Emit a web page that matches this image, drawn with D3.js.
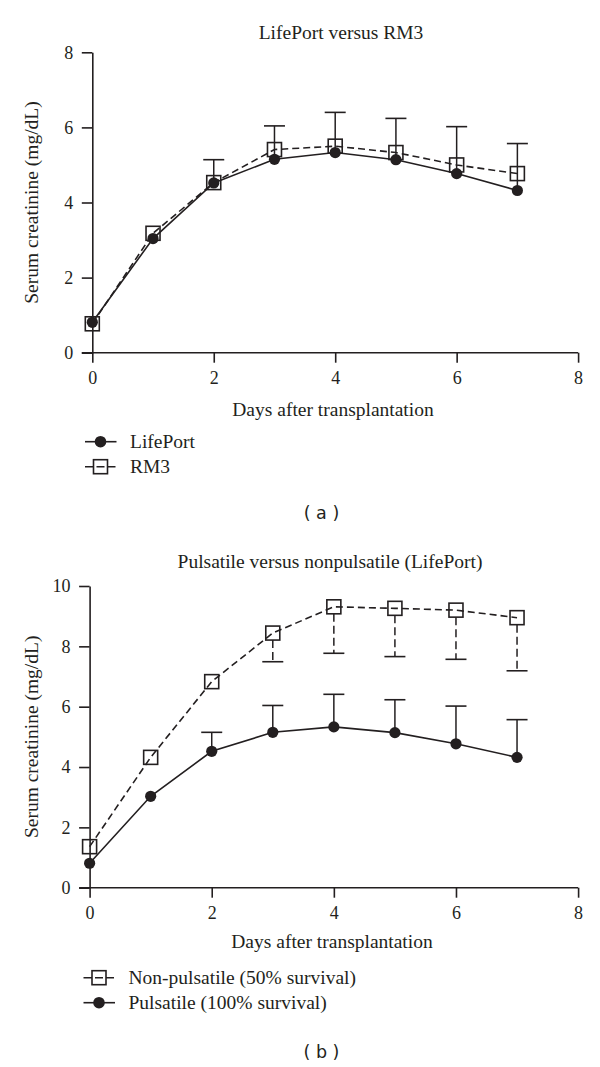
<!DOCTYPE html>
<html>
<head>
<meta charset="utf-8">
<script src="https://cdn.jsdelivr.net/npm/d3@7"></script>
<style>
  html, body { margin: 0; padding: 0; background: #fff; }
  svg { display: block; }
  .serif { font-family: "Liberation Serif", "Times New Roman", serif; fill: #231f20; }
  .axis path, .axis line { stroke: #231f20; stroke-width: 1.6; }
  .axis text { font-family: "Liberation Serif", "Times New Roman", serif; font-size: 18px; fill: #231f20; }
</style>
</head>
<body>
<script>
// ---------------- DATA ----------------
const days = [0, 1, 2, 3, 4, 5, 6, 7];
const xTicks = [0, 2, 4, 6, 8];

// Panel (a): LifePort versus RM3
const yTicksA = [0, 2, 4, 6, 8];
const lifePortMean = [0.81, 3.04, 4.52, 5.15, 5.33, 5.14, 4.77, 4.32];
const lifePortSD   = [0, 0, 0.62, 0.89, 1.07, 1.10, 1.25, 1.25];
const rm3Mean      = [0.77, 3.18, 4.53, 5.41, 5.50, 5.33, 5.00, 4.77];

// Panel (b): Pulsatile versus nonpulsatile (LifePort)
const yTicksB = [0, 2, 4, 6, 8, 10];
const pulsatileMean = [0.81, 3.03, 4.52, 5.15, 5.33, 5.14, 4.77, 4.32];
const pulsatileSD   = [0, 0, 0.63, 0.89, 1.08, 1.09, 1.25, 1.25];
const nonPulsMean   = [1.36, 4.32, 6.83, 8.44, 9.31, 9.26, 9.20, 8.95];
const nonPulsSD     = [0, 0, 0, 0.95, 1.54, 1.60, 1.63, 1.76];

const titleA = "LifePort versus RM3";
const titleB = "Pulsatile versus nonpulsatile (LifePort)";
const xLabel = "Days after transplantation";
const yLabel = "Serum creatinine (mg/dL)";
const legendA = ["LifePort", "RM3"];
const legendB = ["Non-pulsatile (50% survival)", "Pulsatile (100% survival)"];

// ---------------- DRAW ----------------
const W = 600, H = 1067;
const svg = d3.select("body").append("svg").attr("width", W).attr("height", H);
const ink = "#231f20";

function panel(cfg) {
  const x = d3.scaleLinear().domain([0, 8]).range(cfg.xRange);
  const y = d3.scaleLinear().domain(cfg.yDomain).range(cfg.yRange);
  const g = svg.append("g");

  // axes
  g.append("g").attr("class", "axis")
    .attr("transform", `translate(0,${cfg.yRange[0]})`)
    .call(d3.axisBottom(x).tickValues(xTicks).tickSize(10).tickSizeOuter(0).tickPadding(4))
    .call(a => a.select(".domain").attr("d", `M${cfg.xRange[0] - 10.5},0H${cfg.xRange[1]}`))
    .call(a => a.selectAll("text").attr("dy", "0.95em"));
  g.append("g").attr("class", "axis")
    .attr("transform", `translate(${cfg.xRange[0]},0)`)
    .call(d3.axisLeft(y).tickValues(cfg.yTicks).tickSize(10.5).tickSizeOuter(0).tickPadding(8.5))
    .call(a => a.selectAll("text").attr("dy", "0.33em"));

  // titles
  g.append("text").attr("class", "serif").attr("x", cfg.titleX).attr("y", cfg.titleY)
    .attr("text-anchor", "middle").attr("dominant-baseline", "central")
    .style("font-size", "19.5px").text(cfg.title);
  g.append("text").attr("class", "serif").attr("x", cfg.xLabelX).attr("y", cfg.xLabelY)
    .attr("text-anchor", "middle").attr("dominant-baseline", "central")
    .style("font-size", "19.5px").text(xLabel);
  const yMid = (cfg.yRange[0] + cfg.yRange[1]) / 2;
  g.append("text").attr("class", "serif")
    .attr("transform", `translate(${cfg.yLabelX},${yMid}) rotate(-90)`)
    .attr("text-anchor", "middle").attr("dominant-baseline", "central")
    .style("font-size", "19.5px").text(yLabel);

  const line = d3.line().x((d, i) => x(days[i])).y(d => y(d));

  // series lines
  cfg.series.forEach(s => {
    g.append("path").datum(s.mean).attr("d", line)
      .attr("fill", "none").attr("stroke", ink).attr("stroke-width", 1.6)
      .attr("stroke-dasharray", s.dashed ? "7,4" : null);
  });

  // error bars
  cfg.series.forEach(s => {
    if (!s.sd) return;
    const half = s.marker === "square" ? 7 : 0;
    days.forEach((d, i) => {
      if (!s.sd[i]) return;
      const m = s.mean[i], e = m + s.dir * s.sd[i];
      const y0 = y(m) - s.dir * half;
      g.append("line").attr("x1", x(d)).attr("x2", x(d)).attr("y1", y0).attr("y2", y(e))
        .attr("stroke", ink).attr("stroke-width", 1.5)
        .attr("stroke-dasharray", s.dashed ? "8,4" : null);
      g.append("line").attr("x1", x(d) - 10.5).attr("x2", x(d) + 10.5).attr("y1", y(e)).attr("y2", y(e))
        .attr("stroke", ink).attr("stroke-width", 1.6);
    });
  });

  // markers
  cfg.series.forEach(s => {
    days.forEach((d, i) => {
      drawMarker(g, s.marker, x(d), y(s.mean[i]));
    });
  });

  // legend
  cfg.legend.forEach((L, k) => {
    const ly = cfg.legendY[k];
    const lg = g.append("g");
    lg.append("line").attr("x1", cfg.legendX - 15.5).attr("x2", cfg.legendX + 16)
      .attr("y1", ly).attr("y2", ly).attr("stroke", ink).attr("stroke-width", 1.6)
      .attr("stroke-dasharray", L.dashed ? "8.5,3,8,3,8" : null);
    drawMarker(lg, L.marker, cfg.legendX, ly, true);
    lg.append("text").attr("class", "serif").attr("x", cfg.legendX + 29.5).attr("y", ly)
      .attr("dominant-baseline", "central").style("font-size", "19.5px").text(L.label);
  });

  svg.append("text").attr("x", cfg.capX).attr("y", cfg.capY)
    .attr("text-anchor", "middle").attr("dominant-baseline", "central")
    .style("font-family", "DejaVu Sans, sans-serif").style("font-size", "17.5px")
    .attr("fill", ink).text(cfg.caption);
}

function drawMarker(g, type, cx, cy, legend) {
  if (type === "circle") {
    g.append("circle").attr("cx", cx).attr("cy", cy).attr("r", legend ? 5.8 : 5.6).attr("fill", ink);
  } else {
    const s = 14;
    g.append("rect").attr("x", cx - s / 2).attr("y", cy - s / 2).attr("width", s).attr("height", s)
      .attr("fill", "none").attr("stroke", ink).attr("stroke-width", 1.6);
  }
}

panel({
  xRange: [92.3, 578.1], yDomain: [0, 8], yRange: [352.7, 52.3], yTicks: yTicksA,
  title: titleA, titleX: 341, titleY: 32,
  xLabelX: 333, xLabelY: 409, yLabelX: 31,
  series: [
    { mean: rm3Mean, marker: "square", dashed: true },
    { mean: lifePortMean, sd: lifePortSD, dir: 1, marker: "circle", dashed: false }
  ],
  legend: [
    { label: legendA[0], marker: "circle", dashed: false },
    { label: legendA[1], marker: "square", dashed: true }
  ],
  legendX: 100.5, legendY: [441.7, 466.7],
  caption: "( a )", capX: 321.5, capY: 513
});

panel({
  xRange: [89.6, 578.1], yDomain: [0, 10], yRange: [887.7, 586], yTicks: yTicksB,
  title: titleB, titleX: 330, titleY: 561.7,
  xLabelX: 332, xLabelY: 941.7, yLabelX: 31,
  series: [
    { mean: nonPulsMean, sd: nonPulsSD, dir: -1, marker: "square", dashed: true },
    { mean: pulsatileMean, sd: pulsatileSD, dir: 1, marker: "circle", dashed: false }
  ],
  legend: [
    { label: legendB[0], marker: "square", dashed: true },
    { label: legendB[1], marker: "circle", dashed: false }
  ],
  legendX: 99, legendY: [977.7, 1002.7],
  caption: "( b )", capX: 321.5, capY: 1051.7
});
</script>
</body>
</html>
